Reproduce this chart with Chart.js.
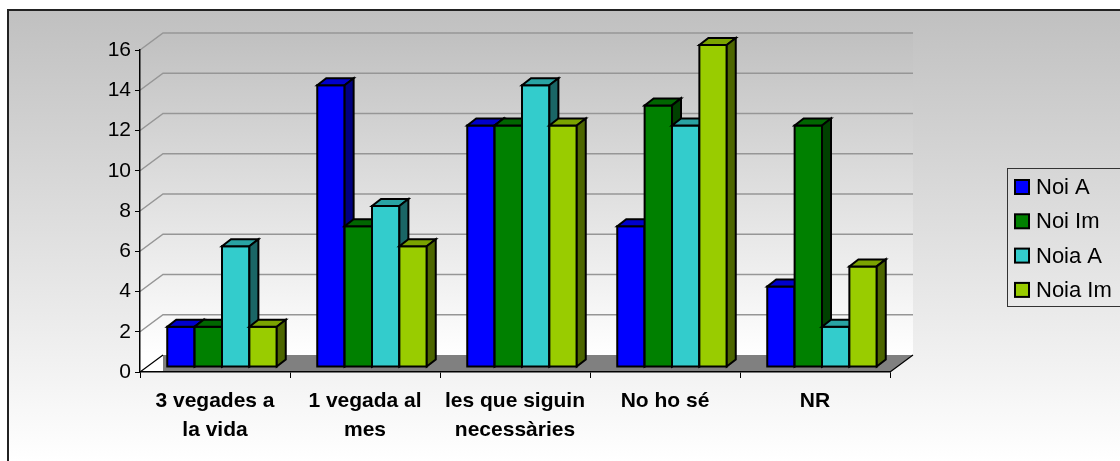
<!DOCTYPE html>
<html>
<head>
<meta charset="utf-8">
<script src="https://cdn.jsdelivr.net/npm/chart.js@4/dist/chart.umd.min.js"></script>
<style>
  html, body { margin: 0; padding: 0; background: #fff; overflow: hidden; }
  #wrap { width: 1120px; height: 461px; overflow: hidden; }
  canvas { display: block; }
</style>
</head>
<body>
<div id="wrap"><canvas id="c" width="1120" height="461"></canvas></div>
<script>
// Categories (multi-line labels) and series values
const categories = [
  ['3 vegades a', 'la vida'],
  ['1 vegada al', 'mes'],
  ['les que siguin', 'necessàries'],
  ['No ho sé'],
  ['NR']
];
const seriesNames = ['Noi A', 'Noi Im', 'Noia A', 'Noia Im'];
const noiA   = [2, 14, 12, 7, 4];
const noiIm  = [2, 7, 12, 13, 12];
const noiaA  = [6, 8, 14, 12, 2];
const noiaIm = [2, 6, 12, 16, 5];
const yTicks = [0, 2, 4, 6, 8, 10, 12, 14, 16];

// Face colours: front, top, side
const palette = [
  { front: '#0000FF', top: '#0000CC', side: '#000080' },
  { front: '#008000', top: '#006600', side: '#004000' },
  { front: '#33CCCC', top: '#29A3A3', side: '#1A6666' },
  { front: '#99CC00', top: '#7AA300', side: '#4D6600' }
];

// 3D geometry: wall depth, bar plane offset and bar depth
const WALL = { dx: 23, dy: -17 };
const BAR_SHIFT = { dx: 7, dy: -5 };
const BAR_DEPTH = { dx: 9, dy: -7 };

const FONT = "'Liberation Sans', Arial, sans-serif";

const chart3d = {
  id: 'chart3d',
  beforeDraw(chart) {
    const ctx = chart.ctx;
    const { left, right, top, bottom } = chart.chartArea;
    const ys = chart.scales.y;
    ctx.save();
    // page + outer frame with vertical gradient
    ctx.fillStyle = '#fff';
    ctx.fillRect(0, 0, chart.width, chart.height);
    const g = ctx.createLinearGradient(0, 10, 0, 461);
    g.addColorStop(0, '#C0C0C0');
    g.addColorStop(1, '#FFFFFF');
    ctx.fillStyle = g;
    ctx.fillRect(8, 10, 1140, 470);
    ctx.strokeStyle = '#222';
    ctx.lineWidth = 2;
    ctx.strokeRect(8, 10, 1140, 470);

    // walls
    const bTop = top + WALL.dy, bBot = bottom + WALL.dy;
    const wg = ctx.createLinearGradient(0, bTop, 0, bBot);
    wg.addColorStop(0, '#C0C0C0');
    wg.addColorStop(1, '#FFFFFF');
    ctx.fillStyle = wg;
    ctx.beginPath();
    ctx.moveTo(left, top);
    ctx.lineTo(left + WALL.dx, bTop);
    ctx.lineTo(right + WALL.dx, bTop);
    ctx.lineTo(right + WALL.dx, bBot);
    ctx.lineTo(left, bottom);
    ctx.closePath();
    ctx.fill();

    // gridlines on back wall + left wall diagonals
    ctx.strokeStyle = '#969696';
    ctx.lineWidth = 1.5;
    yTicks.forEach(v => {
      if (v === 0) return;
      const yf = ys.getPixelForValue(v);
      ctx.beginPath();
      ctx.moveTo(left, yf);
      ctx.lineTo(left + WALL.dx, yf + WALL.dy);
      ctx.lineTo(right + WALL.dx, yf + WALL.dy);
      ctx.stroke();
    });

    // floor
    ctx.fillStyle = '#808080';
    ctx.beginPath();
    ctx.moveTo(left + WALL.dx, bBot);
    ctx.lineTo(right + WALL.dx, bBot);
    ctx.lineTo(right, bottom);
    ctx.lineTo(left + WALL.dx, bottom);
    ctx.closePath();
    ctx.fill();
    ctx.strokeStyle = '#000';
    ctx.lineWidth = 1.2;
    ctx.beginPath();
    ctx.moveTo(left, bottom);
    ctx.lineTo(left + WALL.dx, bBot);
    ctx.moveTo(right, bottom);
    ctx.lineTo(right + WALL.dx, bBot);
    ctx.stroke();
    ctx.restore();
  },
  beforeDatasetsDraw(chart) {
    const ctx = chart.ctx;
    const metas = chart.data.datasets.map((d, i) => chart.getDatasetMeta(i));
    ctx.save();
    ctx.lineWidth = 2;
    ctx.lineJoin = 'miter';
    ctx.strokeStyle = '#000';
    const n = chart.data.labels.length;
    for (let j = 0; j < n; j++) {
      metas.forEach((meta, i) => {
        const el = meta.data[j];
        const c = palette[i];
        const l = el.x - el.width / 2 + BAR_SHIFT.dx;
        const r = el.x + el.width / 2 + BAR_SHIFT.dx;
        const t = el.y + BAR_SHIFT.dy;
        const b = el.base + BAR_SHIFT.dy;
        // front
        ctx.fillStyle = c.front;
        ctx.beginPath();
        ctx.rect(l, t, r - l, b - t);
        ctx.fill();
        ctx.stroke();
        // top
        ctx.fillStyle = c.top;
        ctx.beginPath();
        ctx.moveTo(l, t);
        ctx.lineTo(r, t);
        ctx.lineTo(r + BAR_DEPTH.dx, t + BAR_DEPTH.dy);
        ctx.lineTo(l + BAR_DEPTH.dx, t + BAR_DEPTH.dy);
        ctx.closePath();
        ctx.fill();
        ctx.stroke();
        // side
        ctx.fillStyle = c.side;
        ctx.beginPath();
        ctx.moveTo(r, t);
        ctx.lineTo(r + BAR_DEPTH.dx, t + BAR_DEPTH.dy);
        ctx.lineTo(r + BAR_DEPTH.dx, b + BAR_DEPTH.dy);
        ctx.lineTo(r, b);
        ctx.closePath();
        ctx.fill();
        ctx.stroke();
      });
    }
    ctx.restore();
    return false;
  },
  afterDraw(chart) {
    // legend box
    const ctx = chart.ctx;
    ctx.save();
    ctx.strokeStyle = '#333';
    ctx.lineWidth = 1;
    ctx.strokeRect(1007.5, 168.5, 140, 138);
    ctx.font = '22px ' + FONT;
    ctx.textBaseline = 'middle';
    ctx.textAlign = 'left';
    seriesNames.forEach((name, i) => {
      const cy = 187 + i * 34.3;
      ctx.fillStyle = palette[i].front;
      ctx.fillRect(1015, cy - 7, 14, 14);
      ctx.strokeStyle = '#000';
      ctx.lineWidth = 2;
      ctx.strokeRect(1015, cy - 7, 14, 14);
      ctx.fillStyle = '#000';
      ctx.fillText(name, 1036, cy + 1);
    });
    ctx.restore();
  }
};

new Chart(document.getElementById('c'), {
  type: 'bar',
  data: {
    labels: categories,
    datasets: [noiA, noiIm, noiaA, noiaIm].map((vals, i) => ({
      label: seriesNames[i],
      data: vals,
      backgroundColor: palette[i].front,
      borderColor: '#000',
      borderWidth: 2,
      categoryPercentage: 0.73,
      barPercentage: 1.0
    }))
  },
  options: {
    responsive: false,
    animation: false,
    devicePixelRatio: 1,
    layout: { padding: { left: 0, top: 50, right: 230, bottom: 0 } },
    plugins: {
      legend: { display: false },
      tooltip: { enabled: false }
    },
    scales: {
      x: {
        grid: { display: true, drawOnChartArea: false, drawTicks: true, tickLength: 6, color: '#000', offset: true },
        border: { display: true, color: '#000', width: 1.5 },
        ticks: {
          color: '#000',
          padding: 9,
          maxRotation: 0,
          autoSkip: false,
          font: { family: FONT, size: 21, weight: 'bold', lineHeight: 1.38 }
        },
        afterFit(scale) { scale.height = 89; }
      },
      y: {
        min: 0,
        max: 16,
        grid: { display: true, drawOnChartArea: false, drawTicks: true, tickLength: 5, color: '#000' },
        border: { display: true, color: '#000', width: 1.5 },
        ticks: {
          stepSize: 2,
          color: '#000',
          padding: 4,
          font: { family: FONT, size: 21 }
        },
        afterFit(scale) { scale.width = 140; }
      }
    }
  },
  plugins: [chart3d]
});
</script>
</body>
</html>
